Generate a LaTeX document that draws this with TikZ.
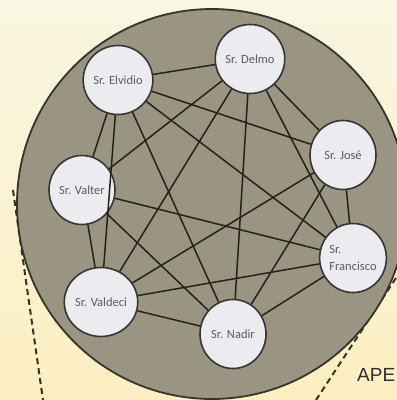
\documentclass[tikz,border=0pt]{standalone}
\usepackage{fontspec}
\newfontfamily\calibri{Carlito}
\newfontfamily\arialfont{Liberation Sans}
\usepackage{tikz}
\usetikzlibrary{shapes.geometric}
\definecolor{papertop}{HTML}{F9F6E2}
\definecolor{paperbottom}{HTML}{FDEFC2}
\definecolor{netfill}{HTML}{9A9582}
\definecolor{netline}{HTML}{35342A}
\definecolor{nodefill}{HTML}{ECECF0}
\definecolor{nodeline}{HTML}{353535}
\definecolor{nodetext}{HTML}{5A5A66}
\definecolor{tieline}{HTML}{222216}
\definecolor{dashline}{HTML}{3A3222}

\begin{document}
\begin{tikzpicture}[x=1pt,y=-1pt,
    person/.style={ellipse,draw=nodeline,fill=nodefill,line width=1.6pt,
        minimum width=66pt,minimum height=69pt,inner sep=0pt,text=nodetext,
        font=\calibri\fontsize{12.5}{16.5}\selectfont},
    tie/.style={line width=1.5pt,draw=tieline},
    callout/.style={line width=2pt,draw=dashline,dash pattern=on 6pt off 4pt}]
    %%% PAGE %%%
    \useasboundingbox (0,0) rectangle (397,400);
    \clip (0,0) rectangle (397,400);
    \shade[top color=papertop,bottom color=paperbottom] (0,0) rectangle (397,400);
    % callout lines %
    \coordinate (cl1) at (13,190);
    \coordinate (cl2) at (43,400);
    \coordinate (cr1) at (396,278);
    \coordinate (cr2) at (316,400);
    \draw[callout] (cl1)--(cl2);
    \draw[callout] (cr1)--(cr2);
    % network %
    \draw[fill=netfill,draw=netline,line width=1.8pt] (212,204) circle (195pt);
    % people %
    \node[person] (elvidio) at (118,80){Sr. Elvidio};
    \node[person] (delmo) at (250,59){Sr. Delmo};
    \node[person] (jose) at (343,155){Sr. José};
    \node[person] (valter) at (82,190){Sr. Valter};
    \node[person,align=left] (francisco) at (353,258){Sr.\\Francisco};
    \node[person] (valdeci) at (101,302){Sr. Valdeci};
    \node[person] (nadir) at (233,334){Sr. Nadir};
    % ties %
    \draw[tie] (elvidio)--(delmo);
    \draw[tie] (elvidio)--(jose);
    \draw[tie] (elvidio)--(francisco);
    \draw[tie] (elvidio)--(valter);
    \draw[tie] (elvidio)--(valdeci);
    \draw[tie] (elvidio)--(nadir);
    \draw[tie] (delmo)--(jose);
    \draw[tie] (delmo)--(valter);
    \draw[tie] (delmo)--(valdeci);
    \draw[tie] (delmo)--(nadir);
    \draw[tie] (delmo)--(francisco);
    \draw[tie] (jose)--(valdeci);
    \draw[tie] (jose)--(nadir);
    \draw[tie] (jose)--(francisco);
    \draw[tie] (valter)--(francisco);
    \draw[tie] (valter)--(valdeci);
    \draw[tie] (valter)--(nadir);
    \draw[tie] (valdeci)--(nadir);
    \draw[tie] (valdeci)--(francisco);
    \draw[tie] (nadir)--(francisco);
    % label %
    \node[anchor=west,inner sep=0pt,text=black!82,font=\arialfont\fontsize{19}{19}\selectfont] (ape) at (357,375){APE};
\end{tikzpicture}
\end{document}
